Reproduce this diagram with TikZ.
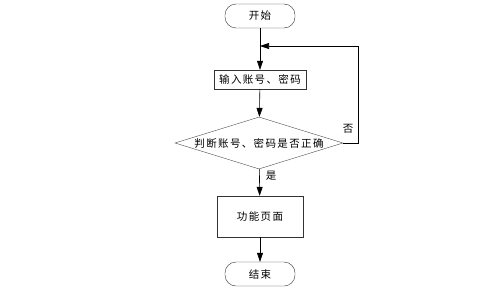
\documentclass[tikz,border=0pt]{standalone}
\usepackage{fontspec}
\newfontfamily\cjk[LetterSpace=13]{Noto Sans CJK SC}
\usetikzlibrary{shapes.geometric,arrows.meta}
\begin{document}
\begin{tikzpicture}[x=1pt,y=-1pt,
  every node/.style={font=\cjk\fontsize{10.5}{12}\selectfont},
  term/.style={draw=black!80, rounded corners=11pt, minimum width=70pt, minimum height=24pt, inner sep=0pt},
  proc/.style={draw=black!80, inner sep=0pt},
  dec/.style={draw=black!70, shape=diamond, aspect=3.23, inner sep=0pt, minimum width=168pt, minimum height=52pt},
  arr/.style={draw=black, line width=0.6pt, -{Triangle[length=9pt,width=6pt]}},
  lbl/.style={inner sep=1pt}]
\useasboundingbox (0,0) rectangle (494,289);
\node[term] (start) at (260,16) {开始};
\node[proc, minimum width=92pt, minimum height=19pt] (input) at (260,79.5) {输入账号、密码};
\node[dec] (judge) at (259,143) {判断账号、密码是否正确};
\node[proc, minimum width=86pt, minimum height=41pt] (func) at (260,216.5) {功能页面};
\node[term] (end) at (260,274) {结束};
\coordinate (loopb) at (358,143);
\coordinate (loopt) at (358,46);
\coordinate (loopin) at (260,46);
\draw[arr] (start) -- (input);
\draw[arr] (input) -- (judge);
\draw[arr] (judge) -- (func);
\node[lbl] (yes) at (271,176) {是};
\draw[arr] (func) -- (end);
\draw[arr] (judge.east) -- (loopb) -- (loopt) -- (loopin);
\node[lbl] (no) at (348,129) {否};
\end{tikzpicture}
\end{document}
